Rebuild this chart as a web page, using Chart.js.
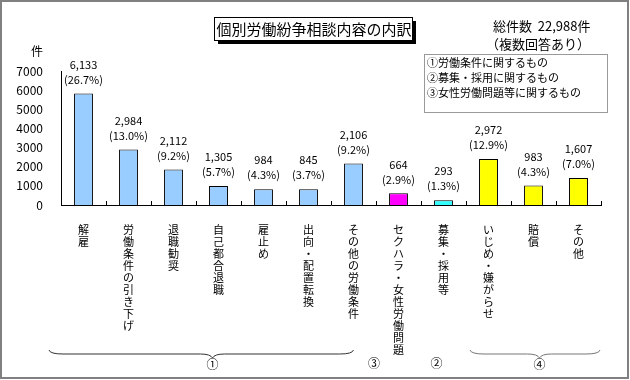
<!DOCTYPE html>
<html><head><meta charset="utf-8">
<script src="https://cdn.jsdelivr.net/npm/chart.js@4.4.1/dist/chart.umd.min.js"></script>
<style>html,body{margin:0;padding:0;background:#fff;}canvas{display:block;}</style>
</head><body>
<canvas id="c" width="630" height="380"></canvas>
<script>
const categories = ['解雇','労働条件の引き下げ','退職勧奨','自己都合退職','雇止め','出向・配置転換','その他の労働条件','セクハラ・女性労働問題','募集・採用等','いじめ・嫌がらせ','賠償','その他'];
const barValues = [5820, 2900, 1860, 990, 820, 820, 2170, 610, 245, 2400, 1025, 1405];
const countLabels = ['6,133','2,984','2,112','1,305','984','845','2,106','664','293','2,972','983','1,607'];
const pctLabels = ['26.7','13.0','9.2','5.7','4.3','3.7','9.2','2.9','1.3','12.9','4.3','7.0'];
const groupOf = [1,1,1,1,1,1,1,3,2,4,4,4];
const groupColors = {1:'#99CCFF', 2:'#33FFFF', 3:'#FF00FF', 4:'#FFFF00'};
const yTicks = [0,1000,2000,3000,4000,5000,6000,7000];
const titleText = '個別労働紛争相談内容の内訳';
const totalText = ['総件数  22,988件', '（複数回答あり）'];
const legendLines = ['①労働条件に関するもの','②募集・採用に関するもの','③女性労働問題等に関するもの'];
const FONT = "'Noto Sans CJK JP', sans-serif";

const decor = {
  id: 'decor',
  beforeDraw(chart) {
    const ctx = chart.ctx;
    ctx.save();
    ctx.fillStyle = '#fff';
    ctx.fillRect(0, 0, chart.width, chart.height);
    ctx.restore();
  },
  afterDraw(chart) {
    const ctx = chart.ctx;
    const xs = chart.scales.x;
    const ca = chart.chartArea;
    const step = (xs.getPixelForValue(1) - xs.getPixelForValue(0));
    ctx.save();
    ctx.strokeStyle = '#000'; ctx.lineWidth = 1;
    for (let i = 0; i <= categories.length; i++) {
      const x = Math.round(xs.getPixelForValue(0) - step/2 + i*step) + 0.5;
      ctx.beginPath(); ctx.moveTo(x, ca.bottom); ctx.lineTo(x, ca.bottom - 4); ctx.stroke();
    }
    const meta = chart.getDatasetMeta(0);
    ctx.fillStyle = '#000';
    ctx.font = '11px ' + FONT;
    ctx.textAlign = 'center'; ctx.textBaseline = 'middle';
    meta.data.forEach((bar, i) => {
      ctx.fillText(countLabels[i], bar.x, bar.y - 29);
      ctx.fillText('(' + pctLabels[i] + '%)', bar.x, bar.y - 14);
    });
    ctx.font = '12px ' + FONT;
    ctx.fillText('件', 37, 51);
    const tb = {x: 214, y: 17, w: 198, h: 23};
    ctx.fillStyle = '#000';
    ctx.fillRect(tb.x + 4, tb.y + 4, tb.w, tb.h);
    ctx.fillStyle = '#fff';
    ctx.fillRect(tb.x, tb.y, tb.w, tb.h);
    ctx.strokeStyle = '#000';
    ctx.strokeRect(tb.x + 0.5, tb.y + 0.5, tb.w, tb.h);
    ctx.fillStyle = '#000';
    ctx.font = '15px ' + FONT;
    ctx.fillText(titleText, tb.x + tb.w/2 + 1, tb.y + tb.h/2 + 1);
    ctx.font = '13px ' + FONT;
    ctx.textAlign = 'left';
    ctx.fillText(totalText[0], 493, 26);
    ctx.fillText(totalText[1], 486, 44);
    ctx.strokeStyle = '#999';
    ctx.strokeRect(424.5, 54.5, 183, 58);
    ctx.font = '11px ' + FONT;
    ctx.fillStyle = '#000';
    legendLines.forEach((t, i) => ctx.fillText(t, 427, 63 + i*15));
    const cx = i => xs.getPixelForValue(i);
    function brace(x1, x2, mid, y, color) {
      ctx.strokeStyle = color; ctx.lineWidth = 1;
      ctx.beginPath();
      ctx.moveTo(x1, y - 4);
      ctx.quadraticCurveTo(x1 + 1, y, x1 + 14, y);
      ctx.lineTo(mid - 12, y);
      ctx.quadraticCurveTo(mid - 2, y, mid, y + 4);
      ctx.quadraticCurveTo(mid + 2, y, mid + 12, y);
      ctx.lineTo(x2 - 14, y);
      ctx.quadraticCurveTo(x2 - 1, y, x2, y - 4);
      ctx.stroke();
    }
    const by = 354;
    brace(cx(0) - step/2 - 12, cx(6), cx(3) - 6, by, '#333');
    brace(cx(9) - step/2 + 4, cx(11) + step/2 - 1, cx(10) + 6, by, '#777');
    ctx.fillStyle = '#000';
    ctx.font = '12px ' + FONT;
    ctx.textAlign = 'center';
    ctx.fillText('①', cx(3) - 6, 364);
    ctx.fillText('③', cx(6) + step/2 - 2, 363);
    ctx.fillText('②', cx(8) - 7, 363);
    ctx.fillText('④', cx(10) + 6, 364);
    ctx.strokeStyle = '#808080'; ctx.lineWidth = 2;
    ctx.strokeRect(1, 1, chart.width - 3, chart.height - 3);
    ctx.restore();
  }
};

new Chart(document.getElementById('c'), {
  type: 'bar',
  data: {
    labels: categories.map(s => Array.from(s)),
    datasets: [{
      data: barValues,
      backgroundColor: groupOf.map(g => groupColors[g]),
      borderColor: '#000',
      borderWidth: 1,
      borderSkipped: 'bottom',
      categoryPercentage: 1,
      barPercentage: 0.42
    }]
  },
  options: {
    responsive: false,
    animation: false,
    layout: {padding: {left: 0, right: 29, top: 71, bottom: 25}},
    plugins: {legend: {display: false}, tooltip: {enabled: false}, title: {display: false}},
    scales: {
      x: {
        grid: {display: false},
        border: {display: true, color: '#000', width: 1},
        ticks: {autoSkip: false, maxRotation: 0, minRotation: 0, padding: 11, color: '#000',
                font: {family: FONT, size: 11, lineHeight: '12px'}},
        afterFit(s) { s.height = 150; }
      },
      y: {
        min: 0, max: 7000,
        afterBuildTicks(s) { s.ticks = yTicks.map(v => ({value: v})); },
        grid: {display: false},
        border: {display: true, color: '#000', width: 1},
        ticks: {padding: 10, color: '#000', font: {family: FONT, size: 12},
                callback: v => String(v)},
        afterFit(s) { s.width = 61; }
      }
    }
  },
  plugins: [decor]
});
</script>
</body></html>
